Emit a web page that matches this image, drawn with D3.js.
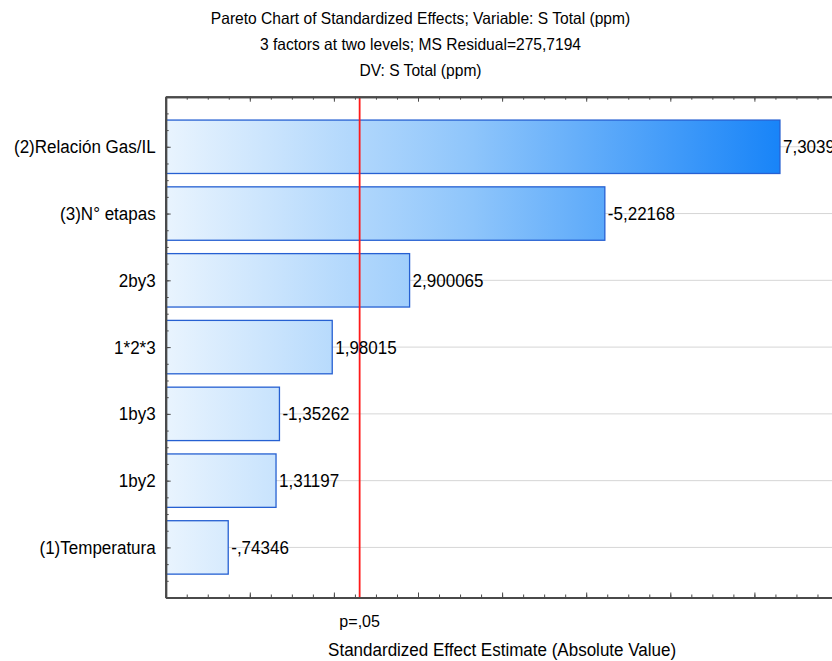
<!DOCTYPE html>
<html>
<head>
<meta charset="utf-8">
<script src="https://cdn.jsdelivr.net/npm/d3@7"></script>
<style>
  body { margin: 0; background: #fff; }
  svg text { font-family: "Liberation Sans", Arial, Helvetica, sans-serif; fill: #000; }
</style>
</head>
<body>
<svg id="chart" width="832" height="661"></svg>
<script>
// Effects, sorted by absolute standardized estimate
const effects = ["(2)Relación Gas/IL", "(3)N° etapas", "2by3", "1*2*3", "1by3", "1by2", "(1)Temperatura"];
const estimates = [7.3039, -5.22168, 2.900065, 1.98015, -1.35262, 1.31197, -0.74346];

// Critical t value for p = .05
const pCritical = 2.306004;
const pLabel = "p=,05";

const titleLines = [
  "Pareto Chart of Standardized Effects; Variable: S Total (ppm)",
  "3 factors at two levels; MS Residual=275,7194",
  "DV: S Total (ppm)"
];
const xTitle = "Standardized Effect Estimate (Absolute Value)";
const xDomain = [0, 8];

const svg = d3.select("#chart");
const frame = { left: 165.7, right: 838.5, top: 96.7, bottom: 597.5 };

const x = d3.scaleLinear().domain(xDomain).range([frame.left, frame.right]);
const y = d3.scaleLinear().domain([0.25, effects.length + 0.75]).range([frame.top, frame.bottom]);

// decimal comma, no leading zero (e.g. -,74346)
const fmt = v => String(v).replace(".", ",").replace(/^(-?)0,/, "$1,");

// slightly condensed lettering
const SX = 0.945;
const place = (px, py) => `translate(${px},${py}) scale(${SX},1)`;

// fill gradient runs along the value axis
const defs = svg.append("defs");
const grad = defs.append("linearGradient")
  .attr("id", "barFill")
  .attr("gradientUnits", "userSpaceOnUse")
  .attr("x1", x(0)).attr("x2", x(d3.max(estimates, Math.abs)))
  .attr("y1", 0).attr("y2", 0);
grad.append("stop").attr("offset", "0%").attr("stop-color", "#e9f4fe");
grad.append("stop").attr("offset", "50%").attr("stop-color", "#8ec5fb");
grad.append("stop").attr("offset", "100%").attr("stop-color", "#1884f8");

// titles
svg.append("g").selectAll("text").data(titleLines).join("text")
  .attr("transform", (d, i) => place(420.5, 24 + i * 26))
  .attr("text-anchor", "middle")
  .style("font-size", "16.5px")
  .text(d => d);

// horizontal grid lines through each bar
svg.append("g").selectAll("line").data(effects).join("line")
  .attr("x1", frame.left).attr("x2", frame.right)
  .attr("y1", (d, i) => y(i + 1)).attr("y2", (d, i) => y(i + 1))
  .attr("stroke", "#d6d6d6").attr("stroke-width", 1);

// bars
svg.append("g").selectAll("rect").data(estimates).join("rect")
  .attr("x", x(0))
  .attr("y", (d, i) => y(i + 0.6))
  .attr("width", d => x(Math.abs(d)) - x(0))
  .attr("height", (d, i) => y(i + 1.4) - y(i + 0.6))
  .attr("fill", "url(#barFill)")
  .attr("stroke", "#2660d2")
  .attr("stroke-width", 1.3);

// p = .05 reference line
svg.append("line")
  .attr("x1", x(pCritical)).attr("x2", x(pCritical))
  .attr("y1", frame.top).attr("y2", frame.bottom)
  .attr("stroke", "#ff1a1a").attr("stroke-width", 1.8);

// value labels
svg.append("g").selectAll("text").data(estimates).join("text")
  .attr("transform", (d, i) => place(x(Math.abs(d)) + 3, y(i + 1)))
  .attr("dy", "0.36em")
  .style("font-size", "18px")
  .text(d => fmt(d));

// category labels
svg.append("g").selectAll("text").data(effects).join("text")
  .attr("transform", (d, i) => place(frame.left - 10, y(i + 1)))
  .attr("dy", "0.36em")
  .attr("text-anchor", "end")
  .style("font-size", "18px")
  .text(d => d);

// axes: inward ticks, minor every quarter unit, major every unit
const minorX = d3.range(xDomain[0], xDomain[1] + 0.001, 0.25);
const majorX = d3.range(xDomain[0], xDomain[1] + 0.001, 1);
const minorY = d3.range(0.25, effects.length + 0.751, 0.25);
const majorY = d3.range(1, effects.length + 1, 1);

function styleAxis(g) {
  g.selectAll("path, line").attr("stroke", "#4a4a4a");
  g.selectAll("text").remove();
}
const axes = [
  [d3.axisBottom(x).tickValues(minorX).tickSize(-3), `translate(0,${frame.bottom})`],
  [d3.axisBottom(x).tickValues(majorX).tickSize(-5), `translate(0,${frame.bottom})`],
  [d3.axisTop(x).tickValues(minorX).tickSize(-3), `translate(0,${frame.top})`],
  [d3.axisTop(x).tickValues(majorX).tickSize(-5), `translate(0,${frame.top})`],
  [d3.axisLeft(y).tickValues(minorY).tickSize(-3), `translate(${frame.left},0)`],
  [d3.axisLeft(y).tickValues(majorY).tickSize(-5), `translate(${frame.left},0)`]
];
axes.forEach(([ax, tr]) => {
  svg.append("g").attr("transform", tr)
    .call(ax.tickSizeOuter(0).tickFormat(""))
    .call(styleAxis)
    .select(".domain").attr("stroke-width", 2);
});

// p label and axis title
svg.append("text")
  .attr("transform", place(x(pCritical), 627))
  .attr("text-anchor", "middle")
  .style("font-size", "17px")
  .text(pLabel);

svg.append("text")
  .attr("transform", place((frame.left + frame.right) / 2, 656))
  .attr("text-anchor", "middle")
  .style("font-size", "18px")
  .text(xTitle);
</script>
</body>
</html>
